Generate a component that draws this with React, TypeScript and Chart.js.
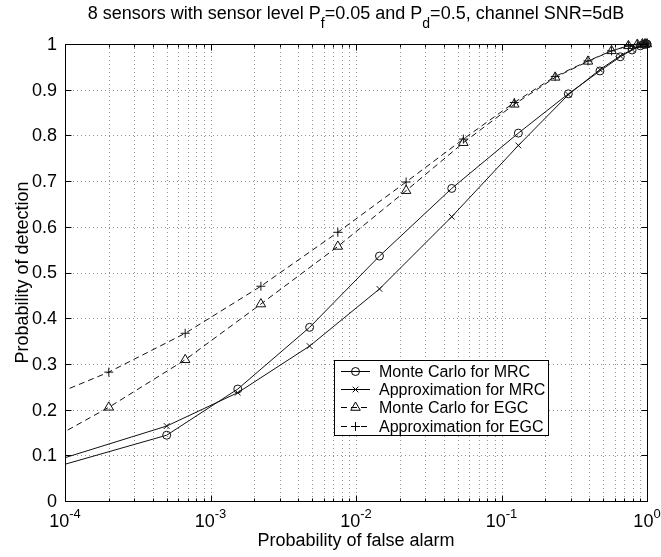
import React, { useEffect, useRef } from 'react';
import { Chart, registerables } from 'chart.js';

Chart.register(...registerables);

// ---------- data ----------
const mcMrcX = [5e-5, 5.0e-4, 1.54e-3, 4.8e-3, 1.45e-2, 4.55e-2, 0.1306, 0.288, 0.475, 0.655, 0.79, 0.9, 0.96, 1.0];
const mcMrcY = [0.053, 0.144, 0.245, 0.380, 0.536, 0.684, 0.805, 0.891, 0.941, 0.972, 0.987, 0.996, 0.999, 1.0];

const apMrcX = [5e-5, 5.0e-4, 1.54e-3, 4.8e-3, 1.45e-2, 4.55e-2, 0.1306, 0.288, 0.475, 0.655, 0.79, 0.9, 0.96, 1.0];
const apMrcY = [0.065, 0.164, 0.237, 0.339, 0.464, 0.622, 0.778, 0.889, 0.944, 0.974, 0.988, 0.996, 0.999, 1.0];

const mcEgcX = [6e-5, 2.0e-4, 6.7e-4, 2.22e-3, 7.5e-3, 2.21e-2, 5.47e-2, 0.1225, 0.234, 0.393, 0.571, 0.745, 0.858, 0.93, 0.97, 1.0];
const mcEgcY = [0.113, 0.205, 0.309, 0.431, 0.557, 0.679, 0.784, 0.868, 0.927, 0.962, 0.985, 0.996, 0.999, 1.0, 1.0, 1.0];

const apEgcX = [6e-5, 2.0e-4, 6.7e-4, 2.22e-3, 7.5e-3, 2.21e-2, 5.47e-2, 0.1225, 0.234, 0.393, 0.571, 0.745, 0.858, 0.93, 0.97, 1.0];
const apEgcY = [0.213, 0.282, 0.367, 0.470, 0.588, 0.698, 0.792, 0.872, 0.929, 0.963, 0.985, 0.996, 0.999, 1.0, 1.0, 1.0];

const seriesLabels = ['Monte Carlo for MRC', 'Approximation for MRC', 'Monte Carlo for EGC', 'Approximation for EGC'];

const xTickValues = [1e-4, 1e-3, 1e-2, 1e-1, 1];
const xTickExponents = ['-4', '-3', '-2', '-1', '0'];
const yTickValues = [0, 0.1, 0.2, 0.3, 0.4, 0.5, 0.6, 0.7, 0.8, 0.9, 1];
const yTickLabels = ['0', '0.1', '0.2', '0.3', '0.4', '0.5', '0.6', '0.7', '0.8', '0.9', '1'];

const titleParts = [
  { text: '8 sensors with sensor level P', sub: false },
  { text: 'f', sub: true },
  { text: '=0.05 and P', sub: false },
  { text: 'd', sub: true },
  { text: '=0.5, channel SNR=5dB', sub: false },
];
const xAxisTitle = 'Probability of false alarm';
const yAxisTitle = 'Probability of detection';

// ---------- styling ----------
const FONT = '"Liberation Sans", Arial, Helvetica, sans-serif';
const INK = '#000';

type Style = 'circle' | 'crossRot' | 'triangle' | 'cross';
const seriesStyles: { style: Style; radius: number; dash: number[] }[] = [
  { style: 'circle', radius: 4, dash: [] },
  { style: 'crossRot', radius: 4, dash: [] },
  { style: 'triangle', radius: 5.5, dash: [6, 4] },
  { style: 'cross', radius: 4.5, dash: [6, 4] },
];

function drawMarker(ctx: CanvasRenderingContext2D, style: Style, x: number, y: number, r: number) {
  ctx.beginPath();
  if (style === 'circle') {
    ctx.arc(x, y, r, 0, Math.PI * 2);
  } else if (style === 'crossRot') {
    const o = r * Math.SQRT1_2;
    ctx.moveTo(x - o, y - o);
    ctx.lineTo(x + o, y + o);
    ctx.moveTo(x - o, y + o);
    ctx.lineTo(x + o, y - o);
  } else if (style === 'triangle') {
    let rad = 0;
    ctx.moveTo(x + Math.sin(rad) * r, y - Math.cos(rad) * r);
    rad += (2 * Math.PI) / 3;
    ctx.lineTo(x + Math.sin(rad) * r, y - Math.cos(rad) * r);
    rad += (2 * Math.PI) / 3;
    ctx.lineTo(x + Math.sin(rad) * r, y - Math.cos(rad) * r);
    ctx.closePath();
  } else {
    ctx.moveTo(x, y - r);
    ctx.lineTo(x, y + r);
    ctx.moveTo(x - r, y);
    ctx.lineTo(x + r, y);
  }
  ctx.stroke();
}

const decorPlugin = {
  id: 'matlabDecor',
  beforeDatasetsDraw(chart: any) {
    const { ctx, chartArea: a, scales } = chart;
    const xs = scales.x;
    const ys = scales.y;
    ctx.save();
    ctx.strokeStyle = 'rgba(0,0,0,0.42)';
    ctx.lineWidth = 1;
    ctx.setLineDash([1, 3]);
    for (let e = -4; e < 0; e++) {
      for (let m = 1; m <= 9; m++) {
        const v = m * Math.pow(10, e);
        if (v <= 1e-4 * 1.0001) continue;
        const px = Math.round(xs.getPixelForValue(v)) + 0.5;
        ctx.beginPath();
        ctx.moveTo(px, a.top);
        ctx.lineTo(px, a.bottom);
        ctx.stroke();
      }
    }
    for (const v of yTickValues) {
      if (v <= 0 || v >= 1) continue;
      const py = Math.round(ys.getPixelForValue(v)) + 0.5;
      ctx.beginPath();
      ctx.moveTo(a.left, py);
      ctx.lineTo(a.right, py);
      ctx.stroke();
    }
    ctx.restore();
  },
  afterDraw(chart: any) {
    const { ctx, chartArea: a, scales } = chart;
    const xs = scales.x;
    const ys = scales.y;
    ctx.save();
    ctx.setLineDash([]);
    ctx.strokeStyle = INK;
    ctx.lineWidth = 1;
    const L = Math.round(a.left) + 0.5;
    const R = Math.round(a.right) + 0.5;
    const T = Math.round(a.top) + 0.5;
    const B = Math.round(a.bottom) + 0.5;
    // box
    ctx.strokeRect(L, T, R - L, B - T);
    // x ticks (inward), major + minor
    for (let e = -4; e <= 0; e++) {
      for (let m = 1; m <= 9; m++) {
        const v = m * Math.pow(10, e);
        if (v > 1.0001) continue;
        const px = Math.round(xs.getPixelForValue(v)) + 0.5;
        const len = m === 1 ? 6 : 3;
        ctx.beginPath();
        ctx.moveTo(px, B);
        ctx.lineTo(px, B - len);
        ctx.moveTo(px, T);
        ctx.lineTo(px, T + len);
        ctx.stroke();
      }
    }
    // y ticks (inward)
    for (const v of yTickValues) {
      const py = Math.round(ys.getPixelForValue(v)) + 0.5;
      ctx.beginPath();
      ctx.moveTo(L, py);
      ctx.lineTo(L + 6, py);
      ctx.moveTo(R, py);
      ctx.lineTo(R - 6, py);
      ctx.stroke();
    }

    ctx.fillStyle = INK;
    // y tick labels
    ctx.font = `18px ${FONT}`;
    ctx.textAlign = 'right';
    ctx.textBaseline = 'middle';
    yTickValues.forEach((v, i) => {
      ctx.fillText(yTickLabels[i], a.left - 8, ys.getPixelForValue(v) + 1);
    });
    // x tick labels 10^n
    ctx.textBaseline = 'alphabetic';
    ctx.textAlign = 'left';
    xTickValues.forEach((v, i) => {
      const px = xs.getPixelForValue(v);
      ctx.font = `18px ${FONT}`;
      const wBase = ctx.measureText('10').width;
      ctx.font = `13px ${FONT}`;
      const wExp = ctx.measureText(xTickExponents[i]).width;
      const start = px - (wBase + wExp) / 2;
      ctx.font = `18px ${FONT}`;
      ctx.fillText('10', start, a.bottom + 26);
      ctx.font = `13px ${FONT}`;
      ctx.fillText(xTickExponents[i], start + wBase, a.bottom + 17);
    });
    // axis titles
    ctx.font = `18px ${FONT}`;
    ctx.textAlign = 'center';
    ctx.fillText(xAxisTitle, (a.left + a.right) / 2, a.bottom + 45);
    ctx.save();
    ctx.translate(28, (a.top + a.bottom) / 2);
    ctx.rotate(-Math.PI / 2);
    ctx.textBaseline = 'alphabetic';
    ctx.fillText(yAxisTitle, 0, 0);
    ctx.restore();

    // title with subscripts
    ctx.textAlign = 'left';
    ctx.textBaseline = 'alphabetic';
    const mainFont = `18px ${FONT}`;
    const subFont = `14px ${FONT}`;
    let total = 0;
    const widths = titleParts.map((p) => {
      ctx.font = p.sub ? subFont : mainFont;
      const w = ctx.measureText(p.text).width;
      total += w;
      return w;
    });
    let cx = (a.left + a.right) / 2 - total / 2;
    titleParts.forEach((p, i) => {
      ctx.font = p.sub ? subFont : mainFont;
      ctx.fillText(p.text, cx, p.sub ? 28 : 19);
      cx += widths[i];
    });

    // legend
    const lx = 334.5, ly = 360.5, lw = 214, lh = 75;
    ctx.fillStyle = '#fff';
    ctx.fillRect(lx, ly, lw, lh);
    ctx.strokeStyle = INK;
    ctx.strokeRect(lx, ly, lw, lh);
    ctx.fillStyle = INK;
    ctx.font = `16px ${FONT}`;
    ctx.textBaseline = 'middle';
    ctx.textAlign = 'left';
    seriesLabels.forEach((label, i) => {
      const yy = Math.round(370.5 + i * 18.4) + 0.5;
      const st = seriesStyles[i];
      ctx.setLineDash(st.dash);
      ctx.beginPath();
      ctx.moveTo(341, yy);
      ctx.lineTo(370, yy);
      ctx.stroke();
      ctx.setLineDash([]);
      drawMarker(ctx, st.style, 355.5, yy, st.radius);
      ctx.fillText(label, 379, yy + 1);
    });
    ctx.restore();
  },
};

function makePoints(xs: number[], ys: number[]) {
  return xs.map((x, i) => ({ x, y: ys[i] }));
}

export default function App() {
  const ref = useRef<HTMLCanvasElement | null>(null);
  useEffect(() => {
    if (!ref.current) return;
    const allData = [
      makePoints(mcMrcX, mcMrcY),
      makePoints(apMrcX, apMrcY),
      makePoints(mcEgcX, mcEgcY),
      makePoints(apEgcX, apEgcY),
    ];
    const chart = new Chart(ref.current, {
      type: 'line',
      data: {
        datasets: allData.map((d, i) => ({
          label: seriesLabels[i],
          data: d,
          borderColor: '#111',
          borderWidth: 1,
          borderDash: seriesStyles[i].dash,
          pointStyle: seriesStyles[i].style,
          pointRadius: seriesStyles[i].radius,
          pointBorderColor: '#111',
          pointBackgroundColor: 'rgba(0,0,0,0)',
          pointBorderWidth: 1,
          pointHoverRadius: seriesStyles[i].radius,
          tension: 0,
          fill: false,
          clip: { left: 0, top: 8, right: 8, bottom: 0 },
        })),
      },
      options: {
        responsive: false,
        animation: false,
        events: [],
        layout: { padding: { left: 65, right: 14, top: 44, bottom: 56 } },
        plugins: {
          legend: { display: false },
          title: { display: false },
          tooltip: { enabled: false },
        },
        scales: {
          x: { type: 'logarithmic', min: 1e-4, max: 1, display: false },
          y: { type: 'linear', min: 0, max: 1, display: false },
        },
      } as any,
      plugins: [decorPlugin],
    });
    return () => chart.destroy();
  }, []);
  return (
    <div style={{ position: 'fixed', left: 0, top: 0, width: 661, height: 557, background: '#fff' }}>
      <canvas ref={ref} width={661} height={557} style={{ display: 'block', width: 661, height: 557 }} />
    </div>
  );
}
